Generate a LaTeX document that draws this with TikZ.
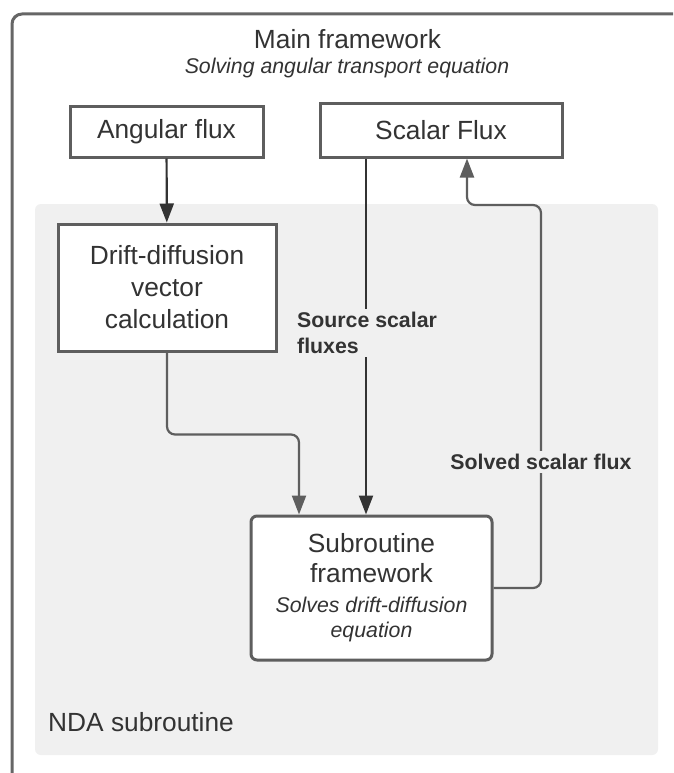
\documentclass[tikz,border=0pt]{standalone}
\usepackage{fontspec}
\setmainfont{Liberation Sans}
\usetikzlibrary{arrows.meta}
\definecolor{framec}{HTML}{666666}
\definecolor{boxc}{HTML}{5E5E5E}
\definecolor{bgc}{HTML}{F0F0F0}
\definecolor{txtc}{HTML}{333333}
\definecolor{darkar}{HTML}{333333}
\definecolor{grayar}{HTML}{5E5E5E}
\newcommand{\smallit}{\fontsize{21.3}{25}\itshape\selectfont}
\tikzset{
  boxnode/.style={draw=boxc, line width=3pt, fill=white, text=txtc, align=center, inner sep=0pt,
    font=\fontsize{26.3}{32}\selectfont},
  darkarrow/.style={draw=darkar, line width=2.2pt, -{Triangle[length=19pt,width=14pt]}},
  grayarrow/.style={draw=grayar, line width=2.2pt, rounded corners=8pt, -{Triangle[length=19pt,width=14pt]}},
  edgelabel/.style={fill=bgc, text=txtc, font=\fontsize{21.3}{26}\bfseries\selectfont, inner xsep=0pt, inner ysep=3pt},
  titletext/.style={text=txtc, inner sep=0pt}
}
\begin{document}
\begin{tikzpicture}[x=1pt,y=-1pt]
\useasboundingbox (0,0) rectangle (673,773);
\fill[white] (0,0) rectangle (673,773);
% outer frame
\begin{scope}
\clip (0,0) rectangle (673,773);
\draw[framec, line width=3pt, rounded corners=10pt] (12,800) -- (12,14) -- (700,14);
\end{scope}
% NDA region
\fill[bgc, rounded corners=6pt] (35,204) rectangle (658,755);
\node[titletext, anchor=west, font=\fontsize{26.3}{30}\selectfont] (nda) at (48,722) {NDA subroutine};
% titles
\node[titletext, font=\fontsize{26.3}{30}\selectfont] (title) at (347.5,39) {Main framework};
\node[titletext, font=\fontsize{21.3}{25}\itshape\selectfont] (subtitle) at (347,68) {Solving angular transport equation};
% boxes
\node[boxnode, minimum width=193pt, minimum height=50pt] (ang) at (166.5,132) {Angular flux};
\node[boxnode, minimum width=242pt, minimum height=53pt] (scal) at (441,130.5) {Scalar Flux};
\node[boxnode, minimum width=218pt, minimum height=127pt] (drift) at (167,287.5) {Drift-diffusion\\vector\\calculation};
\node[boxnode, rounded corners=6pt, minimum width=241pt, minimum height=144pt, font=\fontsize{26.3}{30}\selectfont] (sub) at (371.5,588)
  {Subroutine\\framework\\\smallit Solves drift-diffusion\\[-5pt]\smallit equation};
% connectors
\draw[darkarrow] (ang) -- (drift);
\draw[darkarrow] ([xshift=-75pt]scal.south) -- ([xshift=-5.5pt]sub.north);
\node[edgelabel, anchor=west, align=left] (srclab) at (297,333) {Source scalar\\fluxes};
\draw[grayarrow] (drift.south) -- ++(0,82) -| ([xshift=-72.5pt]sub.north);
\coordinate (rturn) at (541,205);
\draw[grayarrow] (sub.east) -| (rturn) -| ([xshift=26pt]scal.south);
\node[edgelabel, inner xsep=2pt] (solvlab) at (541,462) {Solved scalar flux};
\end{tikzpicture}
\end{document}
